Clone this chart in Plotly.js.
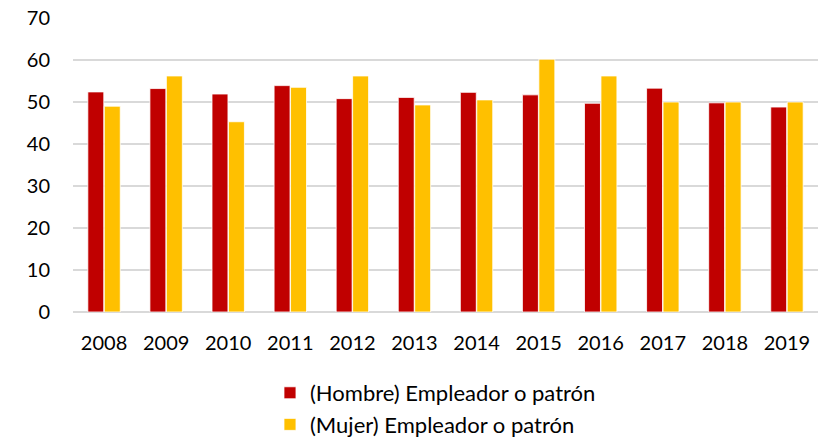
<!DOCTYPE html>
<html>
<head>
<meta charset="utf-8">
<script src="https://cdn.plot.ly/plotly-3.0.1.min.js"></script>
<style>html,body{margin:0;padding:0;background:#fff}#chart{width:828px;height:441px}</style>
</head>
<body>
<div id="chart"></div>
<script>
var years = ["2008","2009","2010","2011","2012","2013","2014","2015","2016","2017","2018","2019"];
var hombre = [52.4, 53.2, 51.9, 53.9, 50.8, 51.1, 52.3, 51.7, 49.7, 53.3, 49.8, 48.8];
var mujer = [49.0, 56.2, 45.3, 53.5, 56.2, 49.3, 50.5, 60.2, 56.2, 50.0, 50.0, 50.0];
var yTicks = [0, 10, 20, 30, 40, 50, 60, 70];

var traces = [
  {type: 'bar', x: years, y: hombre, name: '(Hombre) Empleador o patrón',
   marker: {color: '#C00000', line: {color: '#FFFFFF', width: 0.8}}},
  {type: 'bar', x: years, y: mujer, name: '(Mujer) Empleador o patrón',
   marker: {color: '#FFC000', line: {color: '#FFFFFF', width: 0.8}}}
];

var layout = {
  width: 828, height: 441,
  margin: {l: 73, r: 10, t: 18, b: 129, autoexpand: false},
  paper_bgcolor: '#fff', plot_bgcolor: '#fff',
  font: {family: 'Lato, "Open Sans", sans-serif', size: 20, color: '#000'},
  barmode: 'group', bargap: 0.47, bargroupgap: 0.03,
  showlegend: true,
  legend: {orientation: 'v', x: 0.2644, xanchor: 'left', y: -0.204, yanchor: 'top',
           font: {size: 22, color: '#000'}, tracegroupgap: 0},
  xaxis: {type: 'category', showgrid: false, zeroline: false, showline: false,
          ticks: '', tickfont: {size: 20}, ticklabelstandoff: 17, automargin: false},
  yaxis: {range: [0, 70], tickvals: yTicks, ticktext: yTicks.map(String),
          showgrid: true, gridcolor: '#D9D9D9', gridwidth: 1.3, zeroline: true,
          zerolinecolor: '#D9D9D9', zerolinewidth: 1.3, showline: false,
          ticks: '', ticklabelstandoff: 22, tickfont: {size: 20}, automargin: false}
};

Plotly.newPlot('chart', traces, layout, {displayModeBar: false, staticPlot: true});
</script>
</body>
</html>
